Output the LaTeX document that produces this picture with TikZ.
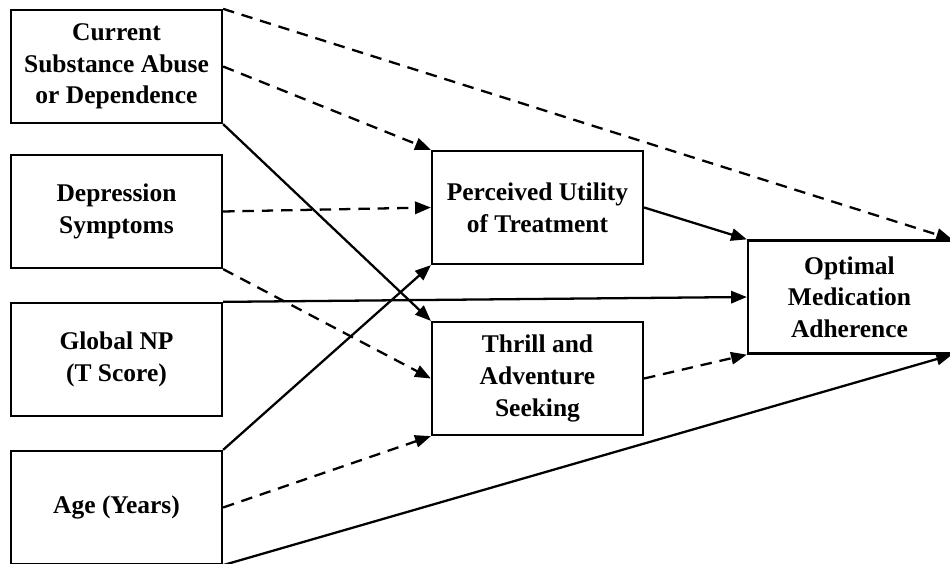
\documentclass[tikz,border=0pt]{standalone}
\usepackage{fontspec}
\setmainfont{Liberation Serif}
\usetikzlibrary{arrows.meta}
\begin{document}
\begin{tikzpicture}[x=0.02cm, y=-0.02cm,
  every node/.style = {shape=rectangle, draw, line width=1.3pt, align=center,
    font=\fontsize{14.5}{18}\selectfont\bfseries,
    minimum width=4.22cm, minimum height=2.26cm},
  every path/.style = {line width=1.3pt},
  path/.style = {-{Triangle[length=9pt,width=7pt]}},
  dpath/.style = {path, dash pattern=on 6.5pt off 4.5pt}]
  \useasboundingbox (0,0) rectangle (950,564);
  \node (cur) at (116.5,66.5) {Current\\ Substance Abuse\\ or Dependence};
  \node (dep) at (116.5,211.5) {Depression\\ Symptoms};
  \node (gnp) at (116.5,359.5) {Global NP\\ (T Score)};
  \node (age) at (116.5,507.5) {Age (Years)};
  \node (util) at (537.5,207.5) {Perceived Utility\\ of Treatment};
  \node (thrill) at (537.5,378.5) {Thrill and\\ Adventure\\ Seeking};
  \node[minimum width=4.06cm] (adh) at (849.5,297) {Optimal\\ Medication\\ Adherence};

  \draw[dpath] (cur.north east) -- (adh.north east);
  \draw[dpath] (cur.east) -- (util.north west);
  \draw[path] (cur.south east) -- (thrill.north west);
  \draw[dpath] (dep.east) -- (util.west);
  \draw[dpath] (dep.south east) -- (thrill.west);
  \draw[path] (gnp.north east) -- (adh.west);
  \draw[path] (age.north east) -- (util.south west);
  \draw[dpath] (age.east) -- (thrill.south west);
  \draw[path] (age.south east) -- (adh.south east);
  \draw[path] (util.east) -- (adh.north west);
  \draw[dpath] (thrill.east) -- (adh.south west);

\end{tikzpicture}
\end{document}
